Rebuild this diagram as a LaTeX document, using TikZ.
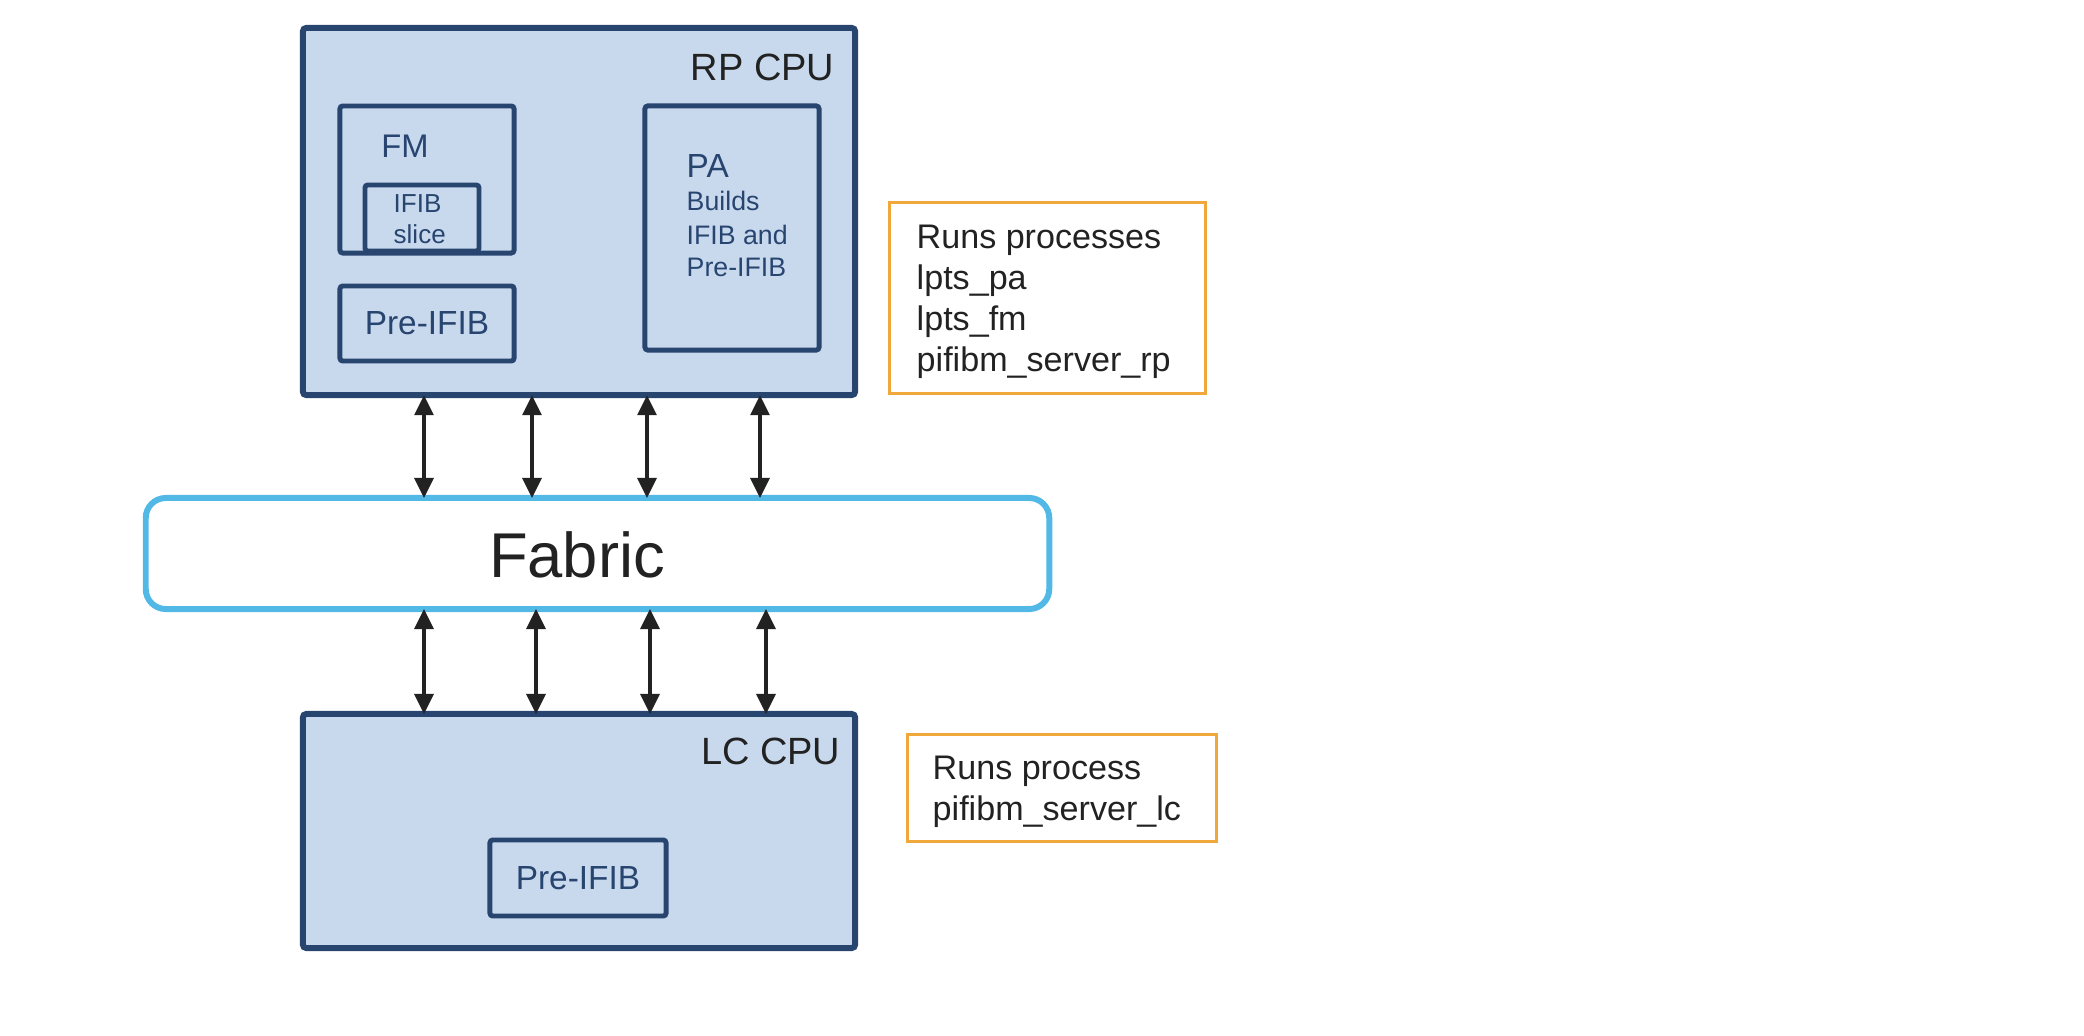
\documentclass[tikz,border=0pt]{standalone}
\usepackage{fontspec}
\setmainfont{Liberation Sans}
\usetikzlibrary{arrows.meta}
\definecolor{cpuline}{HTML}{284570}
\definecolor{cpufill}{HTML}{C8D9ED}
\definecolor{fabline}{HTML}{52B9E6}
\definecolor{noteline}{HTML}{F0A83C}
\definecolor{txtgray}{HTML}{222222}
\tikzset{
    cpubox/.style={draw=cpuline, fill=cpufill, line width=1.7pt, rounded corners=1pt, inner sep=0pt, outer sep=0pt},
    partbox/.style={draw=cpuline, fill=cpufill, line width=1.4pt, rounded corners=0.8pt, inner sep=0pt},
    notebox/.style={draw=noteline, line width=0.85pt, inner sep=0pt},
    fabricbox/.style={draw=fabline, fill=white, line width=1.7pt, rounded corners=0.2cm, inner sep=0pt, outer sep=0pt},
    link/.style={{Triangle[length=5.7pt,width=5.4pt]}-{Triangle[length=5.7pt,width=5.4pt]}, draw=txtgray, line width=0.9pt},
    parttext/.style={text=cpuline, inner sep=0pt},
    cputext/.style={text=txtgray, inner sep=0pt, anchor=base east, font=\fontsize{10.8}{13}\selectfont},
    notetext/.style={text=txtgray, inner sep=0pt, anchor=base west, font=\fontsize{9.7}{11}\selectfont}
}
\begin{document}
\begin{tikzpicture}[x=0.01cm, y=-0.01cm]
                    \useasboundingbox (0,0) rectangle (2084,1036);
                    
                    \node[cpubox, minimum width=5.52cm, minimum height=3.67cm] (rp) at (579,211.5) {};
                    \node[cputext] (rplabel) at (835,80) {RP CPU};
                    \node[partbox, minimum width=1.74cm, minimum height=1.47cm] (fm) at (427,179.5) {};
                    \node[parttext, anchor=base, font=\fontsize{9.3}{11}\selectfont] (fmlabel) at (405,157) {FM};
                    \node[partbox, minimum width=1.14cm, minimum height=0.66cm] (slice) at (422,218) {};
                    \node[parttext, anchor=base west, font=\fontsize{7.4}{9}\selectfont] (sliceline1) at (393,212) {IFIB};
                    \node[parttext, anchor=base west, font=\fontsize{7.4}{9}\selectfont] (sliceline2) at (393,243) {slice};
                    \node[partbox, minimum width=1.74cm, minimum height=0.75cm] (rppre) at (427,323.5) {};
                    \node[parttext, font=\fontsize{9.5}{11}\selectfont] (rpprelabel) at (rppre) {Pre-IFIB};
                    \node[partbox, minimum width=1.74cm, minimum height=2.44cm] (pa) at (732,228) {};
                    \node[parttext, anchor=base west, font=\fontsize{9.5}{11}\selectfont] (palabel) at (686,177) {PA};
                    \foreach \txt/\y [count=\i] in {Builds/210, IFIB and/244.5, Pre-IFIB/276}
                        \node[parttext, anchor=base west, font=\fontsize{7.6}{9}\selectfont] (paline\i) at (686,\y) {\txt};
                    
                    \node[notebox, minimum width=3.15cm, minimum height=1.90cm] (rpnote) at (1047.5,298) {};
                    \foreach \txt [count=\i] in {Runs processes, lpts\_pa, lpts\_fm, pifibm\_server\_rp}
                        \node[notetext] (rpline\i) at (916,207.5+41*\i) {\txt};
                    
                    \node[fabricbox, minimum width=9.03cm, minimum height=1.11cm] (fab) at (597.5,553.5) {};
                    \node[text=txtgray, inner sep=0pt, font=\fontsize{18}{22}\selectfont] (fablabel) at (577,555) {Fabric};
                    
                    \node[cpubox, minimum width=5.52cm, minimum height=2.34cm] (lc) at (579,831) {};
                    \node[cputext] (lclabel) at (841,764) {LC CPU};
                    \node[partbox, minimum width=1.76cm, minimum height=0.76cm] (lcpre) at (578,878) {};
                    \node[parttext, font=\fontsize{9.5}{11}\selectfont] (lcprelabel) at (lcpre) {Pre-IFIB};
                    
                    \node[notebox, minimum width=3.08cm, minimum height=1.06cm] (lcnote) at (1062,788) {};
                    \node[notetext] (lcline1) at (932,779) {Runs process};
                    \node[notetext] (lcline2) at (932,820) {pifibm\_server\_lc};
                    
                    \foreach \x in {424,532,647,760} {
                        \coordinate (up) at (\x,0);
                        \draw[link] (up |- rp.south) -- (up |- fab.north);
                    }
                    \foreach \x in {424,536,650,766} {
                        \coordinate (down) at (\x,0);
                        \draw[link] (down |- fab.south) -- (down |- lc.north);
                    }
                \end{tikzpicture}
\end{document}
